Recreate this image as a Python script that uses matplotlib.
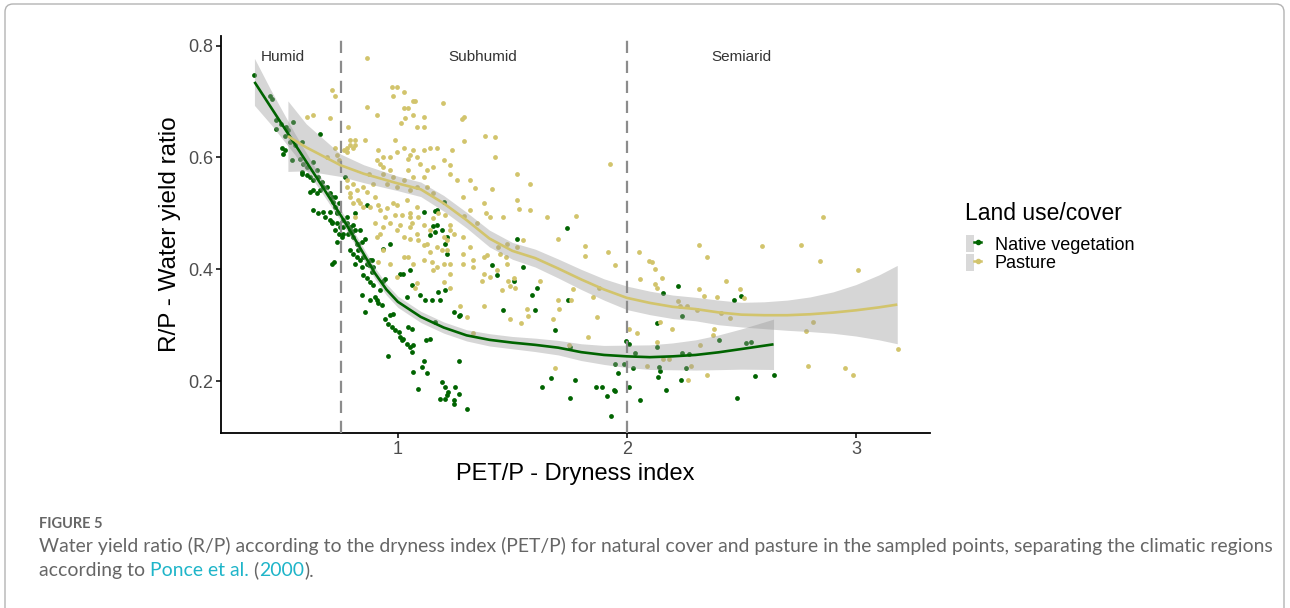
import matplotlib
matplotlib.use("Agg")
import matplotlib.pyplot as plt
import numpy as np
from matplotlib.patches import Patch, FancyBboxPatch
from matplotlib.lines import Line2D
from matplotlib.legend_handler import HandlerTuple
from matplotlib.transforms import IdentityTransform

# ---------------- data ----------------
native_x = [0.374,0.44,0.45,0.47,0.49,0.47,0.512,0.544,0.522,0.508,0.494,0.508,0.50,0.53,0.552,0.58,0.573,0.588,0.603,0.631,
            0.58,0.603,0.617,0.631,0.646,0.653,0.668,0.675,0.66,0.69,0.704,0.712,0.719,0.726,0.734,0.631,0.675,0.704,0.734,0.712,
            0.726,0.741,0.755,0.762,0.777,0.792,0.806,0.821,0.828,0.814,0.835,0.85,0.865,0.879,0.893,0.712,0.723,0.966,1.01,1.054,
            1.112,1.17,1.163,1.192,1.207,1.214,1.52,1.2,0.734,0.762,0.777,0.792,0.806,0.799,0.784,0.762,0.792,0.806,0.821,0.814,
            0.835,0.843,0.828,0.843,0.857,0.85,0.865,0.879,0.893,0.886,0.872,0.886,0.843,0.858,0.879,0.901,0.908,0.915,0.93,0.923,
            0.937,0.945,0.945,0.966,0.981,0.959,0.974,0.988,1.003,1.01,1.017,1.024,1.039,1.054,1.061,1.068,1.046,1.061,0.955,0.937,
            1.024,1.061,1.039,1.097,1.119,1.148,1.185,1.207,1.177,1.163,1.124,1.141,1.112,1.105,1.068,1.127,1.086,1.192,1.207,1.221,
            1.214,1.185,1.207,1.25,1.265,1.243,1.243,1.301,1.265,1.243,1.265,1.141,1.214,1.17,1.41,1.629,1.607,1.6,1.585,1.432,
            1.505,1.461,1.272,1.546,1.686,1.738,1.742,1.752,1.669,1.752,1.774,1.866,1.891,1.915,1.942,1.95,1.93,1.947,1.959,1.988,
            1.997,2.009,2.01,2.026,2.036,2.058,2.131,2.156,2.131,2.14,2.145,2.135,2.17,2.225,2.24,2.24,2.258,2.236,2.272,2.466,
            2.498,2.4,2.521,2.541,2.559,2.642,2.482,0.658,0.537,0.58,0.617,0.631,0.646,0.653,0.683,0.704,0.712,0.734,0.748,0.814,
            0.865,0.77,0.726,0.741,1.163,1.153]
native_y = [0.748,0.71,0.704,0.667,0.66,0.65,0.654,0.664,0.649,0.638,0.616,0.613,0.606,0.628,0.622,0.628,0.598,0.589,0.583,0.592,
            0.574,0.568,0.565,0.559,0.577,0.565,0.556,0.547,0.541,0.547,0.536,0.53,0.521,0.512,0.503,0.506,0.503,0.503,0.50,0.482,
            0.47,0.464,0.458,0.476,0.494,0.47,0.458,0.446,0.434,0.47,0.47,0.422,0.41,0.416,0.404,0.41,0.413,0.446,0.392,0.398,
            0.503,0.506,0.467,0.47,0.446,0.428,0.455,0.52,0.449,0.488,0.482,0.476,0.479,0.467,0.464,0.464,0.434,0.428,0.422,0.41,
            0.416,0.404,0.446,0.449,0.455,0.389,0.384,0.378,0.372,0.395,0.407,0.416,0.355,0.324,0.345,0.351,0.345,0.339,0.336,0.363,
            0.38,0.383,0.312,0.318,0.321,0.303,0.297,0.291,0.288,0.279,0.273,0.276,0.267,0.261,0.252,0.264,0.297,0.294,0.245,0.437,
            0.392,0.372,0.351,0.354,0.345,0.345,0.345,0.363,0.36,0.306,0.273,0.276,0.237,0.225,0.216,0.214,0.187,0.199,0.19,0.181,
            0.175,0.169,0.169,0.19,0.178,0.166,0.159,0.151,0.237,0.324,0.316,0.461,0.458,0.479,0.407,0.19,0.366,0.327,0.354,0.389,
            0.38,0.327,0.318,0.405,0.292,0.473,0.346,0.261,0.206,0.17,0.202,0.19,0.19,0.174,0.185,0.182,0.138,0.23,0.215,0.231,
            0.272,0.267,0.19,0.223,0.251,0.167,0.304,0.358,0.262,0.225,0.218,0.208,0.184,0.37,0.317,0.251,0.223,0.203,0.248,0.345,
            0.352,0.274,0.268,0.271,0.209,0.212,0.17,0.642,0.596,0.571,0.538,0.541,0.536,0.50,0.494,0.488,0.485,0.482,0.476,0.50,
            0.515,0.565,0.53,0.518,0.504,0.477]

pasture_x = [0.865,0.712,0.727,0.631,0.603,0.704,0.784,0.865,0.908,0.814,0.792,0.857,0.727,0.763,0.777,0.792,0.806,0.915,0.937,0.966,
             0.923,0.974,0.996,1.025,0.978,1.076,1.025,1.046,1.032,1.068,1.112,1.083,1.112,1.197,1.28,1.287,0.988,1.025,1.054,1.083,
             1.112,1.141,1.17,1.2,1.228,1.155,1.127,1.097,1.381,1.425,1.425,0.872,0.893,0.85,0.821,0.792,0.777,0.806,0.835,0.792,
             0.937,0.952,0.981,0.996,1.025,1.054,1.083,1.112,1.127,1.155,1.228,1.258,1.286,1.316,1.345,1.374,1.403,1.461,1.52,1.578,
             1.651,1.578,1.52,1.476,1.52,1.548,1.447,1.374,1.316,1.286,1.228,1.2,1.17,1.127,1.083,1.054,1.025,0.996,0.966,0.937,
             0.908,0.937,0.966,1.025,1.068,1.112,1.155,1.2,1.228,1.286,1.33,1.374,1.432,0.879,0.923,0.945,0.923,0.996,1.017,1.054,
             1.09,1.112,1.141,1.155,1.177,1.207,1.228,1.243,1.214,1.112,1.141,1.192,1.214,1.054,1.09,1.046,1.148,1.17,1.228,1.286,
             1.33,1.367,1.403,1.389,1.439,1.476,1.483,1.083,1.076,1.2,1.228,1.272,1.304,1.374,1.33,1.49,0.996,0.915,0.85,0.814,
             0.901,1.287,1.236,1.317,1.338,1.41,1.531,1.779,1.924,1.386,1.287,1.697,1.818,1.815,1.917,1.946,1.473,1.509,1.49,1.454,
             1.512,1.621,1.699,1.757,1.702,1.563,1.57,1.537,1.677,1.764,1.852,1.88,1.869,1.83,1.748,1.687,2.051,2.097,2.109,2.124,
             2.059,2.153,2.121,2.131,2.313,2.313,2.196,2.146,2.007,2.046,2.131,2.157,2.185,2.087,2.223,2.233,2.262,2.306,2.281,2.266,
             2.349,2.59,2.761,2.856,2.844,3.009,2.432,2.338,2.393,2.493,2.513,2.412,2.448,2.381,2.374,2.32,2.351,2.812,2.782,2.79,
             2.953,2.987,3.185,0.814,0.734,0.741,0.777,0.69,0.996,1.046,1.068,0.908,0.937,0.966,1.046,1.068,0.777,0.806,0.828,0.867,
             0.901,0.915,0.952,0.981,0.988,1.054,1.061,1.01,1.039,1.083,1.068,1.014]
pasture_y = [0.778,0.72,0.71,0.676,0.672,0.67,0.655,0.69,0.676,0.631,0.631,0.632,0.616,0.613,0.616,0.622,0.616,0.613,0.601,0.601,
             0.589,0.726,0.725,0.717,0.71,0.70,0.688,0.688,0.67,0.676,0.673,0.655,0.655,0.698,0.668,0.673,0.631,0.616,0.604,0.601,
             0.613,0.616,0.616,0.595,0.586,0.583,0.577,0.589,0.638,0.636,0.601,0.571,0.553,0.547,0.541,0.536,0.547,0.518,0.518,0.53,
             0.571,0.553,0.565,0.547,0.559,0.541,0.547,0.565,0.547,0.536,0.571,0.559,0.53,0.506,0.482,0.518,0.494,0.494,0.524,0.506,
             0.494,0.553,0.571,0.446,0.44,0.452,0.428,0.422,0.44,0.458,0.47,0.458,0.44,0.446,0.464,0.476,0.458,0.47,0.482,0.476,
             0.458,0.434,0.41,0.422,0.41,0.416,0.398,0.41,0.392,0.41,0.404,0.392,0.398,0.512,0.506,0.494,0.464,0.515,0.497,0.494,
             0.494,0.479,0.47,0.491,0.50,0.497,0.479,0.464,0.452,0.443,0.431,0.434,0.434,0.455,0.452,0.422,0.413,0.404,0.41,0.428,
             0.416,0.38,0.386,0.425,0.44,0.41,0.38,0.375,0.366,0.377,0.367,0.334,0.315,0.334,0.287,0.312,0.386,0.413,0.512,0.494,
             0.482,0.63,0.613,0.559,0.546,0.543,0.507,0.495,0.589,0.50,0.496,0.455,0.442,0.424,0.431,0.407,0.422,0.385,0.37,0.363,
             0.366,0.379,0.346,0.346,0.33,0.329,0.316,0.304,0.312,0.364,0.351,0.367,0.315,0.279,0.264,0.224,0.431,0.415,0.413,0.401,
             0.382,0.385,0.373,0.367,0.444,0.364,0.293,0.306,0.294,0.286,0.271,0.239,0.239,0.228,0.343,0.334,0.334,0.328,0.228,0.203,
             0.422,0.442,0.443,0.494,0.415,0.399,0.38,0.352,0.35,0.364,0.349,0.322,0.313,0.293,0.283,0.264,0.211,0.306,0.289,0.227,
             0.223,0.211,0.257,0.622,0.604,0.595,0.61,0.601,0.61,0.598,0.613,0.595,0.583,0.577,0.577,0.565,0.559,0.553,0.524,0.538,
             0.53,0.515,0.509,0.518,0.497,0.50,0.482,0.479,0.524,0.512,0.701,0.661]

# smoothed fits: x, fit, half-width of confidence band
native_fit_x  = [0.374,0.45,0.55,0.65,0.75,0.8,0.85,0.9,0.95,1.0,1.1,1.2,1.3,1.4,1.5,1.6,1.7,1.8,1.9,2.0,2.1,2.2,2.3,2.4,2.5,2.64]
native_fit_y  = [0.735,0.687,0.624,0.561,0.497,0.463,0.428,0.393,0.364,0.342,0.315,0.296,0.282,0.274,0.269,0.265,0.260,0.252,0.247,0.2445,0.243,0.2445,0.247,0.2517,0.2576,0.266]
native_fit_se = [0.042,0.030,0.019,0.013,0.010,0.010,0.010,0.010,0.010,0.010,0.010,0.010,0.010,0.011,0.011,0.012,0.013,0.015,0.017,0.020,0.022,0.024,0.027,0.031,0.036,0.045]

pasture_fit_x  = [0.52,0.6,0.75,0.85,1.0,1.1,1.2,1.3,1.4,1.5,1.6,1.7,1.8,1.9,2.0,2.1,2.2,2.3,2.4,2.5,2.6,2.7,2.8,2.9,3.0,3.1,3.18]
pasture_fit_y  = [0.638,0.618,0.586,0.571,0.5535,0.543,0.518,0.488,0.455,0.433,0.42,0.4015,0.382,0.364,0.349,0.340,0.333,0.329,0.323,0.319,0.318,0.318,0.3197,0.3227,0.3268,0.332,0.337]
pasture_fit_se = [0.063,0.042,0.020,0.016,0.013,0.013,0.014,0.014,0.015,0.015,0.016,0.017,0.018,0.019,0.021,0.021,0.021,0.021,0.022,0.022,0.024,0.027,0.031,0.037,0.046,0.058,0.07]

region_labels = ["Humid", "Subhumid", "Semiarid"]
region_label_x = [0.50, 1.37, 2.50]
boundaries = [0.75, 2.0]
x_ticks = [1, 2, 3]
y_ticks = [0.2, 0.4, 0.6, 0.8]
series_names = ["Native vegetation", "Pasture"]
legend_title = "Land use/cover"

# ---------------- style ----------------
GREEN = "#006400"
YELLOW = "#D2C46C"
W, H = 1290, 608
fig = plt.figure(figsize=(W/100, H/100), dpi=100)
fig.patch.set_facecolor("white")
plt.rcParams['font.family'] = ['Liberation Sans', 'DejaVu Sans']

ax = fig.add_axes([221/W, 1-433/H, (930-221)/W, (433-36)/H])
ax.set_xlim(0.228, 3.323)
ax.set_ylim(0.1075, 0.817)

ax.scatter(native_x, native_y, s=12, color=GREEN, linewidths=0, zorder=2)
ax.scatter(pasture_x, pasture_y, s=12, color=YELLOW, linewidths=0, zorder=2)

for fx, fy, fse in [(native_fit_x, native_fit_y, native_fit_se),
                    (pasture_fit_x, pasture_fit_y, pasture_fit_se)]:
    fx = np.array(fx); fy = np.array(fy); fse = np.array(fse)
    ax.fill_between(fx, fy - fse, fy + fse, color="#999999", alpha=0.4, lw=0, zorder=3)
for fx, fy, col in [(native_fit_x, native_fit_y, GREEN), (pasture_fit_x, pasture_fit_y, YELLOW)]:
    ax.plot(fx, fy, color=col, lw=1.9, zorder=5, solid_capstyle='butt', solid_joinstyle='round')

for b in boundaries:
    ax.axvline(b, color="#8c8c8c", lw=1.6, linestyle=(0, (5.5, 3.5)), zorder=4)

for lab, lx in zip(region_labels, region_label_x):
    ax.text(lx, 0.779, lab, ha="center", va="center", fontsize=11, color="#333333")

for s in ["top", "right"]:
    ax.spines[s].set_visible(False)
for s in ["left", "bottom"]:
    ax.spines[s].set_linewidth(1.3)
    ax.spines[s].set_color("black")
ax.set_xticks(x_ticks)
ax.set_xticklabels([str(t) for t in x_ticks])
ax.set_yticks(y_ticks)
ax.set_yticklabels([f"{t:.1f}" for t in y_ticks])
ax.tick_params(axis="both", length=3.5, width=1.1, color="black", labelsize=13, labelcolor="#4d4d4d", pad=2)

ax.set_xlabel("PET/P - Dryness index", fontsize=17, labelpad=4)
ax.set_ylabel("R/P - Water yield ratio", fontsize=17.5, labelpad=5)

# legend
fig.text(965/W, 1-213/H, legend_title, fontsize=16.5, ha="left", va="center", color="black")
handles = [(Patch(facecolor="#d9d9d9", edgecolor="none"),
            Line2D([], [], color=GREEN, lw=1.8, marker="o", ms=3)),
           (Patch(facecolor="#d9d9d9", edgecolor="none"),
            Line2D([], [], color=YELLOW, lw=1.8, marker="o", ms=3))]
leg = fig.legend(handles, series_names, handler_map={tuple: HandlerTuple(ndivide=None)},
                 loc="upper left", bbox_to_anchor=(966/W, 1-235/H),
                 frameon=False, fontsize=13, handlelength=0.85,
                 handleheight=1.07, labelspacing=0.0, handletextpad=0.75,
                 borderaxespad=0, borderpad=0)

# caption
CAP_FONT = ['Lato', 'DejaVu Sans']
CAP_GRAY = "#666666"
LINK = "#1fb5c9"
fig.text(39/W, 1-528/H, "FIGURE 5", fontsize=10.5, fontweight="bold", color=CAP_GRAY,
         family=CAP_FONT, va="baseline", ha="left")
line1 = ("Water yield ratio (R/P) according to the dryness index (PET/P) for natural cover and pasture in "
         "the sampled points, separating the climatic regions")
t1 = fig.text(39/W, 1-552/H, line1, fontsize=12.5, color=CAP_GRAY, family=CAP_FONT, va="baseline", ha="left")
renderer = fig.canvas.get_renderer()
wpx = t1.get_window_extent(renderer).width
capsize = 12.5 * (1238 / wpx)
t1.set_fontsize(capsize)

pieces = [("according to ", CAP_GRAY), ("Ponce et al.", LINK), (" (", CAP_GRAY),
          ("2000", LINK), (").", CAP_GRAY)]
xpos = 39
for txt, col in pieces:
    t = fig.text(xpos/W, 1-576/H, txt, fontsize=capsize, color=col,
                 family=CAP_FONT, va="baseline", ha="left")
    ext = t.get_window_extent(renderer)
    xpos = ext.x1

# outer rounded border
border = FancyBboxPatch((5, -30), 1279, 634, boxstyle="round,pad=0,rounding_size=8",
                        transform=IdentityTransform(), facecolor="none", edgecolor="#b3b3b3",
                        lw=1.0, figure=fig)
fig.patches.append(border)

fig.savefig("out.png", dpi=100, facecolor="white")
